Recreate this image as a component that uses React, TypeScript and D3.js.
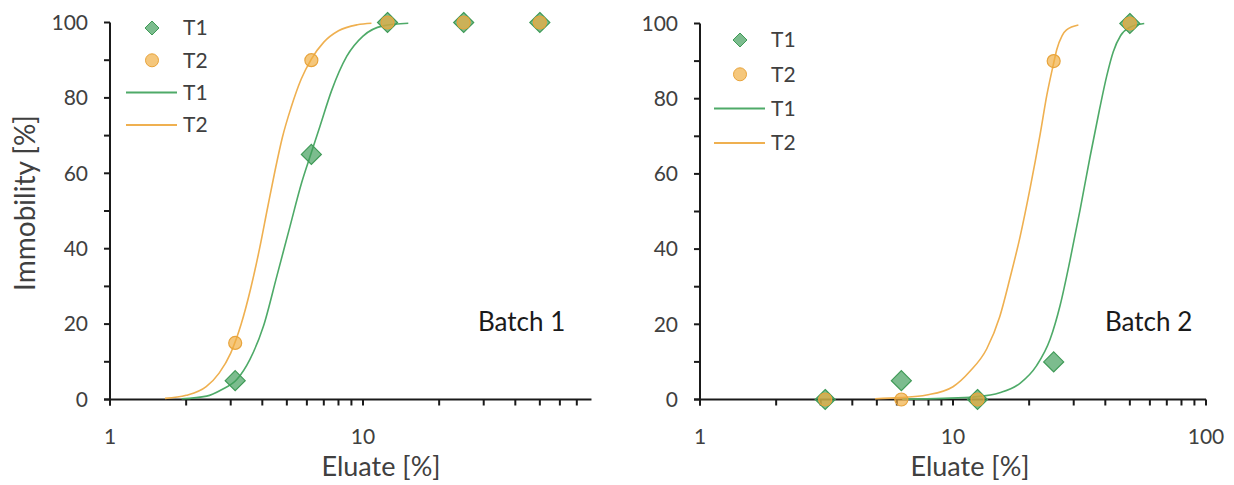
import React from "react";
import * as d3 from "d3";

// ---------- DATA ----------
const concentrations = [3.125, 6.25, 12.5, 25, 50];
const batch1T1 = [5, 65, 100, 100, 100];
const batch1T2 = [15, 90, 100, 100, 100];
const batch2T1 = [0, 5, 0, 10, 100];
const batch2T2 = [0, 0, 0, 90, 100];

// fitted curves
const fit1T1X = [1.92, 2.41, 2.76, 3.17, 3.57, 4.04, 4.56, 5.14, 5.72, 6.25, 6.76, 7.52, 8.62, 10.0, 12.0, 15.1];
const fit1T1Y = [0.2, 0.9, 2.6, 5.3, 10.6, 19.4, 32.6, 45.8, 57.5, 65.5, 72.5, 82, 91, 96.4, 99.1, 99.8];
const fit1T2X = [1.65, 2.0, 2.4, 2.7, 3.0, 3.3, 3.6, 3.9, 4.2, 4.5, 4.8, 5.2, 5.7, 6.25, 7.0, 8.0, 9.5, 10.8];
const fit1T2Y = [0.3, 1.1, 3.4, 7.0, 12.3, 20, 29.5, 40, 51, 61, 69.5, 77.5, 85, 90.3, 94.8, 97.8, 99.4, 99.8];
const fit2T1X = [6.3, 9.2, 12.2, 15.3, 18.4, 21.4, 24.2, 26.5, 29, 31.8, 34.8, 37.9, 40.5, 43, 46, 50, 57];
const fit2T1Y = [0.1, 0.3, 0.7, 1.8, 4.3, 9.0, 16, 25, 37, 50.5, 64.5, 77, 86, 92.5, 96.8, 99, 100];
const fit2T2X = [4.92, 6.17, 7.87, 10.0, 11.67, 13.6, 15.3, 16.8, 18.4, 20.2, 22.1, 23.5, 25, 25.7, 27, 28.1, 31.3];
const fit2T2Y = [0.2, 0.5, 1.2, 3.4, 7.5, 13.5, 22, 32.3, 43.2, 56.4, 70.5, 81, 89.5, 93, 96.8, 98.3, 99.6];

const yTicks = [0, 20, 40, 60, 80, 100];
const yMinorTicks = [10, 30, 50, 70, 90];
const seriesNames = ["T1", "T2"];

const GREEN_FILL = "rgba(62,156,88,0.68)";
const GREEN_STROKE = "#3f9a57";
const GREEN_LINE = "#4eaa68";
const ORANGE_FILL = "rgba(240,172,62,0.68)";
const ORANGE_STROKE = "#e8a43c";
const ORANGE_LINE = "#efb050";
const AXIS = "#1a1a1a";
const TEXT = "#404040";
const FONT = "Lato, 'Open Sans', sans-serif";

const diamond = (r: number) => `M0,${-r}L${r},0L0,${r}L${-r},0Z`;

type PanelProps = {
  x0: number;
  xMax: number;
  decade: number;
  yTop: number;
  yBottom: number;
  t1: number[];
  t2: number[];
  f1x: number[];
  f1y: number[];
  f2x: number[];
  f2y: number[];
  label: string;
  labelX: number;
  xTitleX: number;
  legendX: number;
  legendY: number;
  legendStep: number;
  xTickValues: number[];
};

function Panel(p: PanelProps) {
  const x = d3
    .scaleLog()
    .domain([1, p.xMax])
    .range([p.x0, p.x0 + p.decade * Math.log10(p.xMax)]);
  const y = d3.scaleLinear().domain([0, 100]).range([p.yBottom, p.yTop]);
  const [xl, xr] = x.range();
  const tick = 6;

  const minor: number[] = [];
  for (let dec = 1; dec < p.xMax; dec *= 10) {
    for (let k = 2; k <= 9; k++) {
      const v = dec * k;
      if (v < p.xMax) minor.push(v);
    }
  }

  const line = d3
    .line<[number, number]>()
    .x((d) => x(d[0]))
    .y((d) => y(d[1]))
    .curve(d3.curveMonotoneX);
  const pts = (xs: number[], ys: number[]) => xs.map((v, i) => [v, ys[i]] as [number, number]);

  const lg = p.legendX;
  const ly = (i: number) => p.legendY + i * p.legendStep;

  return (
    <g>
      {/* axes */}
      <line x1={xl - tick} x2={xr} y1={y(0)} y2={y(0)} stroke={AXIS} strokeWidth={2} />
      <line x1={xl} x2={xl} y1={y(100)} y2={y(0) + tick} stroke={AXIS} strokeWidth={2} />
      {yTicks.map((t) => (
        <g key={"yt" + t}>
          <line x1={xl - tick} x2={xl} y1={y(t)} y2={y(t)} stroke={AXIS} strokeWidth={2} />
          <text x={xl - 22} y={y(t)} dy="0.35em" textAnchor="end" fontSize={21} fill={TEXT} fontFamily={FONT}>
            {t}
          </text>
        </g>
      ))}
      {yMinorTicks.map((t) => (
        <line key={"ym" + t} x1={xl - tick} x2={xl} y1={y(t)} y2={y(t)} stroke={AXIS} strokeWidth={2} />
      ))}
      {[...p.xTickValues, ...minor].map((t) => (
        <line key={"xt" + t} x1={x(t)} x2={x(t)} y1={y(0)} y2={y(0) + tick} stroke={AXIS} strokeWidth={2} />
      ))}
      {p.xTickValues.map((t) => (
        <text key={"xl" + t} x={x(t)} y={437} dy="0.35em" textAnchor="middle" fontSize={21} fill={TEXT} fontFamily={FONT}>
          {t}
        </text>
      ))}
      <text x={p.xTitleX} y={467} dy="0.35em" textAnchor="middle" fontSize={27} fill={TEXT} fontFamily={FONT}>
        Eluate [%]
      </text>
      <text x={p.labelX} y={322} dy="0.35em" fontSize={26} fill="#1a1a1a" fontFamily={FONT}>
        {p.label}
      </text>

      {/* fitted curves */}
      <path d={line(pts(p.f1x, p.f1y)) || ""} fill="none" stroke={GREEN_LINE} strokeWidth={1.6} />
      <path d={line(pts(p.f2x, p.f2y)) || ""} fill="none" stroke={ORANGE_LINE} strokeWidth={1.6} />

      {/* markers */}
      {concentrations.map((c, i) => (
        <path
          key={"d" + i}
          d={diamond(10)}
          transform={`translate(${x(c)},${y(p.t1[i])})`}
          fill={GREEN_FILL}
          stroke={GREEN_STROKE}
          strokeWidth={1.2}
        />
      ))}
      {concentrations.map((c, i) => (
        <circle
          key={"c" + i}
          cx={x(c)}
          cy={y(p.t2[i])}
          r={6.5}
          fill={ORANGE_FILL}
          stroke={ORANGE_STROKE}
          strokeWidth={1.2}
        />
      ))}

      {/* legend */}
      <path d={diamond(7)} transform={`translate(${lg + 26},${ly(0)})`} fill={GREEN_FILL} stroke={GREEN_STROKE} strokeWidth={1} />
      <circle cx={lg + 26} cy={ly(1)} r={6.5} fill={ORANGE_FILL} stroke={ORANGE_STROKE} strokeWidth={1} />
      <line x1={lg} x2={lg + 51} y1={ly(2)} y2={ly(2)} stroke={GREEN_LINE} strokeWidth={2} />
      <line x1={lg} x2={lg + 51} y1={ly(3)} y2={ly(3)} stroke={ORANGE_LINE} strokeWidth={2} />
      {[0, 1, 2, 3].map((i) => (
        <text key={"lt" + i} x={lg + 57} y={ly(i)} dy="0.35em" fontSize={21} fill={TEXT} fontFamily={FONT}>
          {seriesNames[i % 2]}
        </text>
      ))}
    </g>
  );
}

export default function App() {
  return (
    <svg
      width={1234}
      height={485}
      style={{ position: "absolute", left: 0, top: 0, background: "#fff" }}
    >
      <rect width={1234} height={485} fill="#fff" />
      <Panel
        x0={110}
        xMax={80}
        decade={253}
        yTop={22.5}
        yBottom={399.5}
        t1={batch1T1}
        t2={batch1T2}
        f1x={fit1T1X}
        f1y={fit1T1Y}
        f2x={fit1T2X}
        f2y={fit1T2Y}
        label="Batch 1"
        labelX={478}
        xTitleX={381}
        legendX={126}
        legendY={28}
        legendStep={32.3}
        xTickValues={[1, 10]}
      />
      <Panel
        x0={700}
        xMax={100}
        decade={253}
        yTop={23.5}
        yBottom={399.5}
        t1={batch2T1}
        t2={batch2T2}
        f1x={fit2T1X}
        f1y={fit2T1Y}
        f2x={fit2T2X}
        f2y={fit2T2Y}
        label="Batch 2"
        labelX={1105}
        xTitleX={970}
        legendX={714}
        legendY={40}
        legendStep={34.3}
        xTickValues={[1, 10, 100]}
      />
      <text
        transform="translate(25,203) rotate(-90)"
        dy="0.35em"
        textAnchor="middle"
        fontSize={28}
        fill={TEXT}
        fontFamily={FONT}
      >
        Immobility [%]
      </text>
    </svg>
  );
}
